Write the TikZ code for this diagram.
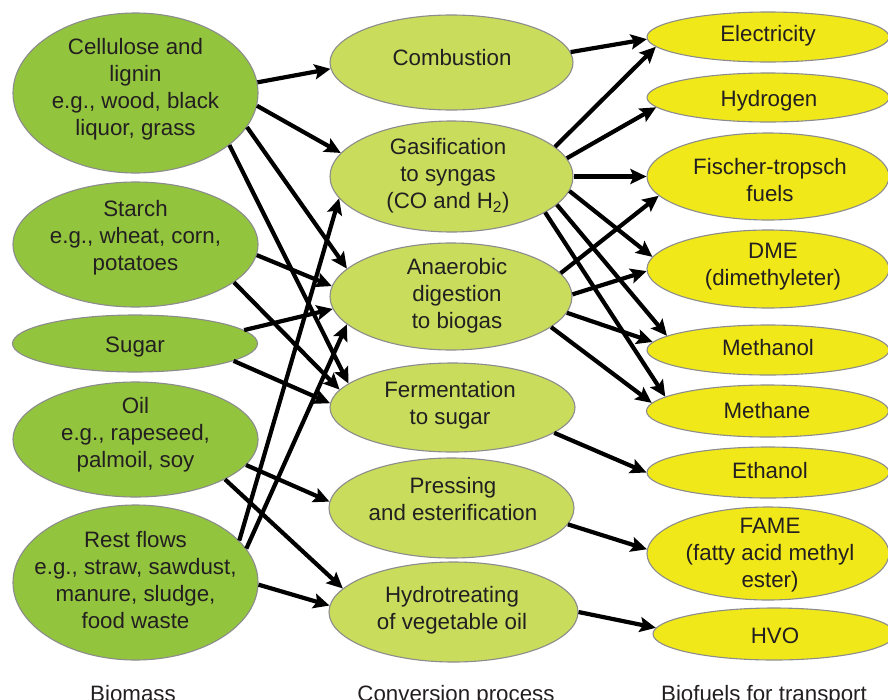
\documentclass[tikz,border=0pt]{standalone}
\usepackage{fontspec}
\setmainfont{Liberation Sans}
\usetikzlibrary{arrows.meta,shapes.geometric}
\definecolor{leftg}{RGB}{146,196,62}
\definecolor{midg}{RGB}{201,220,92}
\definecolor{yel}{RGB}{241,232,26}
\definecolor{rim}{RGB}{140,140,140}
\definecolor{ink}{RGB}{35,31,32}
\begin{document}
\begin{tikzpicture}[x=1pt,y=-1pt,
  ell/.style={ellipse, draw=rim, line width=1.1pt, inner sep=0pt},
  lft/.style={ell, fill=leftg},
  mid/.style={ell, fill=midg},
  rgt/.style={ell, fill=yel},
  txt/.style={align=center, text=ink, font=\fontsize{22.3}{27}\selectfont, inner sep=0pt, yshift=-2.5pt},
  captxt/.style={txt, yshift=0pt, anchor=base},
  arr/.style={line width=4.2pt, -{Stealth[length=16pt,width=15pt,inset=3pt]}}]
\useasboundingbox (0,0) rectangle (888,699);

% left column
\node[lft, minimum width=245pt, minimum height=160pt] (cell) at (135.5,93) {};
\node[lft, minimum width=245pt, minimum height=125pt] (starch) at (135.5,244.5) {};
\node[lft, minimum width=245pt, minimum height=57pt] (sugar) at (135,343.5) {};
\node[lft, minimum width=245pt, minimum height=115pt] (oil) at (135.5,439.5) {};
\node[lft, minimum width=245pt, minimum height=155pt] (rest) at (135.5,582.5) {};

% middle column
\node[mid, minimum width=243pt, minimum height=95pt] (comb) at (451.5,62.5) {};
\node[mid, minimum width=243pt, minimum height=111pt] (gas) at (451.5,176.5) {};
\node[mid, minimum width=242pt, minimum height=107pt] (anaer) at (451,296.5) {};
\node[mid, minimum width=245pt, minimum height=89pt] (ferm) at (452.5,407.5) {};
\node[mid, minimum width=245pt, minimum height=100pt] (press) at (451.5,508) {};
\node[mid, minimum width=249pt, minimum height=100pt] (hydro) at (453.5,612) {};

% right column
\node[rgt, minimum width=242pt, minimum height=50pt] (elec) at (768,37) {};
\node[rgt, minimum width=242pt, minimum height=49pt] (hydrog) at (768,97.5) {};
\node[rgt, minimum width=242pt, minimum height=87pt] (fisch) at (768,176.5) {};
\node[rgt, minimum width=242pt, minimum height=78pt] (dme) at (768,269) {};
\node[rgt, minimum width=242pt, minimum height=50pt] (meoh) at (768,350) {};
\node[rgt, minimum width=242pt, minimum height=52pt] (methane) at (767.5,411) {};
\node[rgt, minimum width=242pt, minimum height=51pt] (ethanol) at (768,472.5) {};
\node[rgt, minimum width=242pt, minimum height=93pt] (fame) at (768,553.5) {};
\node[rgt, minimum width=242pt, minimum height=52pt] (hvo) at (774,634) {};

% texts
\node[txt] (cell-t) at (135.5,87) {Cellulose and\\lignin\\e.g., wood, black\\liquor, grass};
\node[txt] (starch-t) at (135.5,235) {Starch\\e.g., wheat, corn,\\potatoes};
\node[txt] (sugar-t) at (135,345) {Sugar};
\node[txt] (oil-t) at (135.5,432) {Oil\\e.g., rapeseed,\\palmoil, soy};
\node[txt] (rest-t) at (135.5,578) {Rest flows\\e.g., straw, sawdust,\\manure, sludge,\\food waste};

\node[txt] (comb-t) at (452,55) {Combustion};
\node[txt] (gas-t) at (448,173) {Gasification\\to syngas\\(CO and H\textsubscript{2})};
\node[txt] (anaer-t) at (457,293) {Anaerobic\\digestion\\to biogas};
\node[txt] (ferm-t) at (450,403) {Fermentation\\to sugar};
\node[txt] (press-t) at (453,497) {Pressing\\and esterification};
\node[txt] (hydro-t) at (452,608) {Hydrotreating\\of vegetable oil};

\node[txt] (elec-t) at (768,33) {Electricity};
\node[txt] (hydrog-t) at (769,98) {Hydrogen};
\node[txt] (fisch-t) at (770,178) {Fischer-tropsch\\fuels};
\node[txt] (dme-t) at (773,264) {DME\\(dimethyleter)};
\node[txt] (meoh-t) at (768,345) {Methanol};
\node[txt] (methane-t) at (767,408) {Methane};
\node[txt] (ethanol-t) at (770,468) {Ethanol};
\node[txt] (fame-t) at (770,553) {FAME\\(fatty acid methyl\\ester)};
\node[txt] (hvo-t) at (775,633) {HVO};

% column captions
\node[captxt] (cap1) at (133,699) {Biomass};
\node[captxt] (cap2) at (456,699) {Conversion process};
\node[captxt] (cap3) at (764,699) {Biofuels for transport};

% biomass -> conversion
\draw[arr] (cell.5.6) -- (comb.183.5);
\draw[arr] (cell.-6.6) -- (gas.168.9);
\draw[arr] (cell.-17) -- (anaer.165.5);
\draw[arr] (cell.-29.7) -- (ferm.167.4);
\draw[arr] (starch.-5.4) -- (anaer.175.1);
\draw[arr] (starch.-21.8) -- (ferm.171.7);
\draw[arr] (sugar.7.1) -- (anaer.186.3);
\draw[arr] (sugar.-10.3) -- (ferm.178.8);
\draw[arr] (oil.-13.6) -- (press.177.7);
\draw[arr] (oil.-24.8) -- (hydro.168.6);
\draw[arr] (rest.22.5) -- (gas.191.7);
\draw[arr] (rest.17.2) -- (anaer.195.6);
\draw[arr] (rest.-1.2) -- (hydro.177.7);

% conversion -> biofuels
\draw[arr] (comb.5) -- (elec.181.4);
\draw[arr] (gas.16.9) -- (elec.185.4);
\draw[arr] (gas.9.5) -- (hydrog.185.2);
\draw[arr] (gas.-0.2) -- (fisch.180.7);
\draw[arr] (gas.-7.5) -- (dme.174.2);
\draw[arr] (gas.-15.5) -- (meoh.172);
\draw[arr] (gas.-21.3) -- (methane.172.9);
\draw[arr] (anaer.12.3) -- (fisch.190);
\draw[arr] (anaer.1.6) -- (dme.181.4);
\draw[arr] (anaer.-8.2) -- (meoh.176.7);
\draw[arr] (anaer.-17.5) -- (methane.176.3);
\draw[arr] (ferm.-14) -- (ethanol.180);
\draw[arr] (press.-8.4) -- (fame.178.3);
\draw[arr] (hydro.0.9) -- (hvo.177.2);
\end{tikzpicture}
\end{document}
